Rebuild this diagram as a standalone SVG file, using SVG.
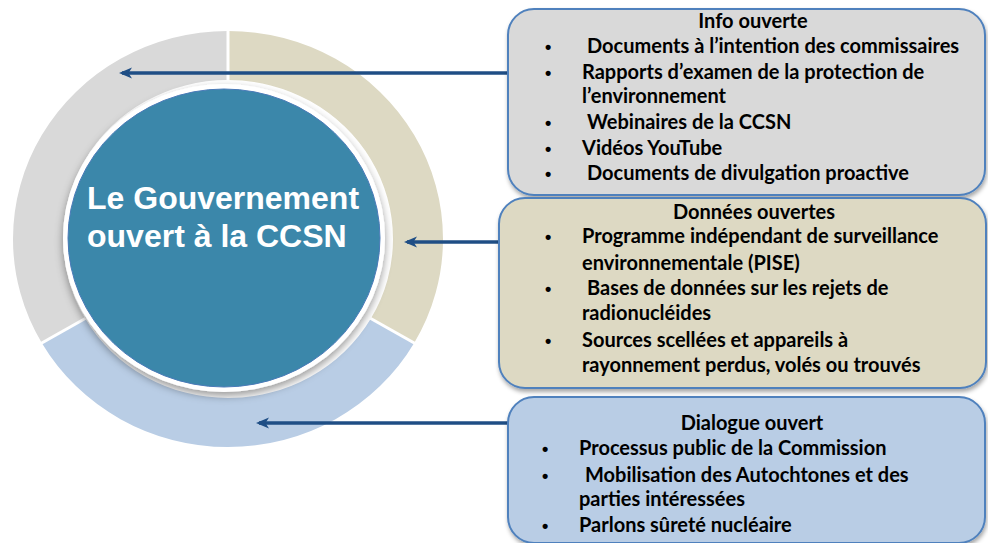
<svg xmlns="http://www.w3.org/2000/svg" width="988" height="543" viewBox="0 0 988 543">
<defs>
<style>
.box{stroke:#4f81bd;stroke-width:2}
.t{font-family:Lato,"Liberation Sans",sans-serif;font-weight:bold;font-size:20px;fill:#000}
.ti{text-anchor:middle}
.b{font-family:"Liberation Sans",Arial,sans-serif;font-weight:bold;font-size:18px;fill:#000}
.conn{stroke:#1f4e85;stroke-width:3.5;fill:none}
.ctr{font-family:"Liberation Sans",Arial,sans-serif;font-weight:bold;font-size:32px;fill:#fff}
</style>
<filter id="sh" x="-10%" y="-10%" width="120%" height="130%">
<feDropShadow dx="1" dy="3" stdDeviation="2" flood-color="#000" flood-opacity="0.35"/>
</filter>
<filter id="csh" x="-10%" y="-10%" width="120%" height="125%">
<feDropShadow dx="0" dy="4" stdDeviation="4" flood-color="#000" flood-opacity="0.4"/>
</filter>
<marker id="ah" markerWidth="13" markerHeight="12" refX="10" refY="6" orient="auto" markerUnits="userSpaceOnUse" viewBox="0 0 13 12">
<path d="M13,6 L0,0.5 L3.5,6 L0,11.5 Z" fill="#1f4e85"/>
</marker>
</defs>
<rect width="988" height="543" fill="#fff"/>
<g id="ring">
<path d="M228,31 A215,208 0 0 1 414.2,343 L370.9,318.5 A165,159 0 0 0 228,80 Z" fill="#ddd9c3"/>
<path d="M414.2,343 A215,208 0 0 1 41.8,343 L85.1,318.5 A165,159 0 0 0 370.9,318.5 Z" fill="#b9cde5"/>
<path d="M41.8,343 A215,208 0 0 1 228,31 L228,80 A165,159 0 0 0 85.1,318.5 Z" fill="#d9d9d9"/>
<g stroke="#fff" stroke-width="3">
<line x1="228" y1="29" x2="228" y2="82"/>
<line x1="416" y1="344" x2="369" y2="317.5"/>
<line x1="40" y1="344" x2="87" y2="317.5"/>
</g>
</g>
<g id="center">
<ellipse cx="224" cy="238" rx="161" ry="154" fill="#fff" filter="url(#csh)"/>
<ellipse cx="224" cy="238" rx="156" ry="149" fill="#3b87aa" stroke="#4a7ab8" stroke-width="1"/>
<text class="ctr" x="87" y="209">Le Gouvernement</text>
<text class="ctr" x="87" y="247">ouvert à la CCSN</text>
</g>
<g id="connectors">
<line class="conn" x1="510" y1="73" x2="122" y2="73" marker-end="url(#ah)"/>
<line class="conn" x1="501" y1="242" x2="407" y2="242" marker-end="url(#ah)"/>
<line class="conn" x1="510" y1="423" x2="259" y2="423" marker-end="url(#ah)"/>
</g>
<g id="info">
<rect class="box" x="508" y="9" width="477" height="186" rx="26" fill="#d9d9d9" filter="url(#sh)"/>
<text class="t ti" x="753" y="28">Info ouverte</text>
<g class="b"><text x="545" y="53">•</text><text x="545" y="79">•</text><text x="545" y="129">•</text><text x="545" y="155">•</text><text x="545" y="180">•</text></g>
<text class="t" x="587" y="53">Documents à l’intention des commissaires</text>
<text class="t" x="582" y="79">Rapports d’examen de la protection de</text>
<text class="t" x="582" y="103">l’environnement</text>
<text class="t" x="587" y="129">Webinaires de la CCSN</text>
<text class="t" x="582" y="155">Vidéos YouTube</text>
<text class="t" x="587" y="180">Documents de divulgation proactive</text>
</g>
<g id="donnees">
<rect class="box" x="499" y="198" width="487" height="190" rx="26" fill="#ddd9c3" filter="url(#sh)"/>
<text class="t ti" x="754" y="219">Données ouvertes</text>
<g class="b"><text x="545" y="243">•</text><text x="545" y="295">•</text><text x="545" y="347">•</text></g>
<text class="t" x="582" y="243">Programme indépendant de surveillance</text>
<text class="t" x="582" y="270">environnementale (PISE)</text>
<text class="t" x="587" y="295">Bases de données sur les rejets de</text>
<text class="t" x="582" y="320">radionucléides</text>
<text class="t" x="582" y="347">Sources scellées et appareils à</text>
<text class="t" x="582" y="372">rayonnement perdus, volés ou trouvés</text>
</g>
<g id="dialogue">
<rect class="box" x="508" y="397" width="477" height="146" rx="26" fill="#b9cde5" filter="url(#sh)"/>
<text class="t ti" x="752" y="430">Dialogue ouvert</text>
<g class="b"><text x="542" y="455">•</text><text x="542" y="482">•</text><text x="542" y="532">•</text></g>
<text class="t" x="579" y="455">Processus public de la Commission</text>
<text class="t" x="585" y="482">Mobilisation des Autochtones et des</text>
<text class="t" x="579" y="506">parties intéressées</text>
<text class="t" x="579" y="532">Parlons sûreté nucléaire</text>
</g>
</svg>
